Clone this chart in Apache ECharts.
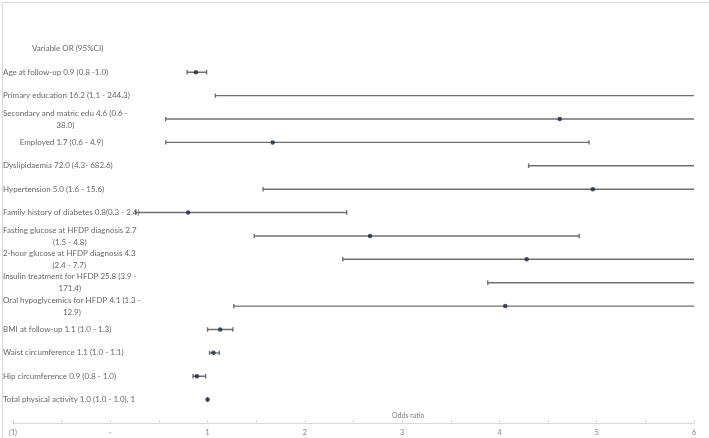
<!DOCTYPE html>
<html>
<head>
<meta charset="utf-8">
<script src="https://cdn.jsdelivr.net/npm/echarts@6/dist/echarts.min.js"></script>
<style>
  html, body { margin: 0; padding: 0; background: #fff; }
  #chart { width: 709px; height: 438px; }
</style>
</head>
<body>
<div id="chart"></div>
<script>
// rows from top to bottom; first one is the header
var rowLabels = [
  'Variable OR (95%CI)',
  'Age at follow-up 0.9 (0.8 -1.0)',
  'Primary education 16.2 (1.1 - 244.3)',
  'Secondary and matric edu 4.6 (0.6 -\n38.0)',
  'Employed 1.7 (0.6 - 4.9)',
  'Dyslipidaemia 72.0 (4.3- 682.6)',
  'Hypertension 5.0 (1.6 - 15.6)',
  'Family history of diabetes 0.8(0.3 - 2.4)',
  'Fasting glucose at HFDP diagnosis 2.7\n(1.5 - 4.8)',
  '2-hour glucose at HFDP diagnosis 4.3\n(2.4 - 7.7)',
  'Insulin treatment for HFDP 25.8 (3.9 -\n171.4)',
  'Oral hypoglycemics for HFDP 4.1 (1.3 -\n12.9)',
  'BMI at follow-up 1.1 (1.0 - 1.3)',
  'Waist circumference 1.1 (1.0 - 1.1)',
  'Hip circumference 0.9 (0.8 - 1.0)',
  'Total physical activity 1.0 (1.0 - 1.0), 1'
];
// odds ratios and 95% CI, same order as rowLabels without the header
var oddsRatio = [0.88, 16.2, 4.62, 1.67, 72.0, 4.96, 0.8, 2.67, 4.28, 25.8, 4.06, 1.13, 1.06, 0.89, 1.0];
var ciLow     = [0.79, 1.08, 0.57, 0.57, 4.3, 1.57, 0.26, 1.48, 2.39, 3.88, 1.27, 1.0, 1.02, 0.85, 1.0];
var ciHigh    = [0.99, 244.3, 38.0, 4.92, 682.6, 15.6, 2.43, 4.82, 7.7, 171.4, 12.9, 1.26, 1.12, 0.98, 1.0];
var xTicks = {'-1': '(1)', '0': '-', '1': '1', '2': '2', '3': '3', '4': '4', '5': '5', '6': '6'};

var nRows = rowLabels.length;
function rowY(i) { return nRows - i; } // header -> 16, last row -> 1

var labelData = rowLabels.map(function (t, i) { return { value: [0, rowY(i)], name: t }; });
var pointData = oddsRatio.map(function (v, i) { return [v, rowY(i + 1)]; });
var barData = oddsRatio.map(function (v, i) { return [rowY(i + 1), ciLow[i], ciHigh[i]]; });

var chart = echarts.init(document.getElementById('chart'));
var fontFam = 'Lato, "Liberation Sans", sans-serif';

chart.setOption({
  animation: false,
  grid: { left: 13, right: 15, top: 25.5, bottom: 15 },
  xAxis: {
    type: 'value',
    min: -1, max: 6, interval: 1,
    axisLine: { show: true, lineStyle: { color: '#d9d9d9', width: 1 } },
    axisTick: { show: true, inside: true, length: 3, lineStyle: { color: '#d9d9d9' } },
    minorTick: { show: true, splitNumber: 2, length: 3, lineStyle: { color: '#d9d9d9' } },
    splitLine: { show: false },
    axisLabel: {
      color: '#7f7f7f', fontSize: 7, fontFamily: fontFam, margin: 6,
      formatter: function (v) { return xTicks[String(v)]; }
    }
  },
  yAxis: {
    type: 'value', min: 0, max: 17, show: false
  },
  graphic: [
    { type: 'rect', left: 0, top: 0, shape: { width: 708, height: 437 },
      style: { fill: 'none', stroke: '#d9d9d9', lineWidth: 1 }, silent: true },
    { type: 'text', left: 392, top: 412,
      style: { text: 'Odds ratio', fill: '#7f7f7f', fontSize: 7, fontFamily: fontFam } }
  ],
  series: [
    {
      type: 'custom',
      clip: true,
      data: barData,
      renderItem: function (params, api) {
        var y = api.value(0);
        var a = api.coord([api.value(1), y]);
        var b = api.coord([api.value(2), y]);
        var h = 2.2;
        var st = { stroke: '#707070', lineWidth: 1.4 };
        return {
          type: 'group',
          children: [
            { type: 'line', shape: { x1: a[0], y1: a[1], x2: b[0], y2: b[1] }, style: st },
            { type: 'line', shape: { x1: a[0], y1: a[1] - h, x2: a[0], y2: a[1] + h }, style: st },
            { type: 'line', shape: { x1: b[0], y1: b[1] - h, x2: b[0], y2: b[1] + h }, style: st }
          ]
        };
      }
    },
    {
      type: 'scatter',
      clip: true,
      symbol: 'circle',
      symbolSize: 4.5,
      itemStyle: { color: '#1b2640' },
      data: pointData
    },
    {
      type: 'scatter',
      symbolSize: 0,
      silent: true,
      data: labelData,
      label: {
        show: true,
        position: 'left',
        distance: 7,
        color: '#404040',
        fontSize: 8,
        lineHeight: 12,
        fontFamily: fontFam,
        formatter: function (p) { return p.name; }
      },
      labelLayout: function (p) {
        var r = p.labelRect;
        var left = Math.max(r.x, 3);
        return { x: left + r.width / 2, y: r.y + r.height / 2, align: 'center', verticalAlign: 'middle' };
      }
    }
  ]
});
</script>
</body>
</html>
